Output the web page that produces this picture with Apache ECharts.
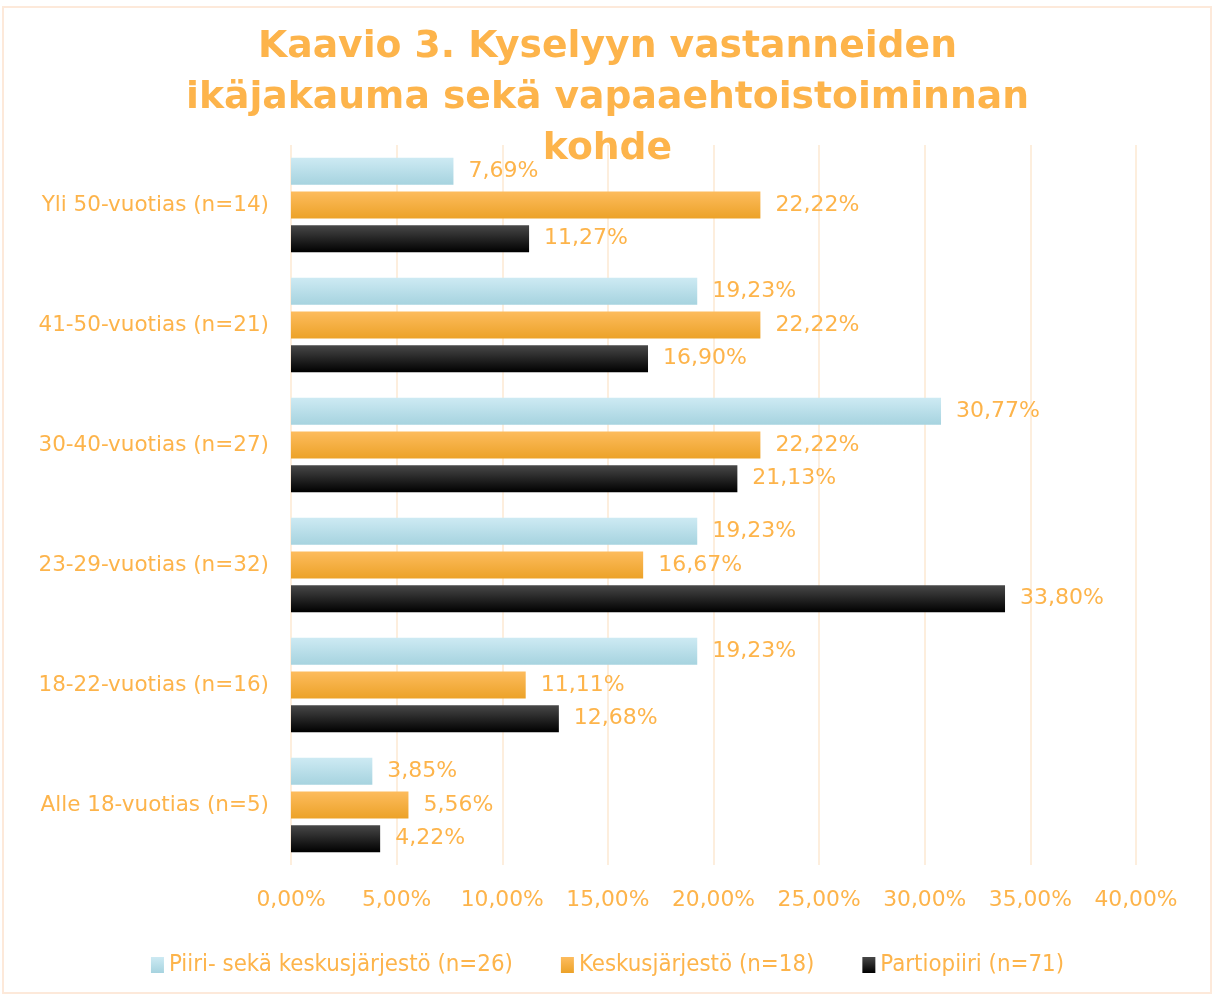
<!DOCTYPE html>
<html>
<head>
<meta charset="utf-8">
<script src="https://cdn.jsdelivr.net/npm/echarts@6/dist/echarts.min.js"></script>
<style>
  html, body { margin: 0; padding: 0; background: #fff; }
  #chart { width: 1215px; height: 997px; }
</style>
</head>
<body>
<div id="chart"></div>
<script>
// ikäryhmät, alhaalta ylös
const categories = [
  'Alle 18-vuotias (n=5)',
  '18-22-vuotias (n=16)',
  '23-29-vuotias (n=32)',
  '30-40-vuotias (n=27)',
  '41-50-vuotias (n=21)',
  'Yli 50-vuotias (n=14)'
];
const seriesNames = ['Piiri- sekä keskusjärjestö (n=26)', 'Keskusjärjestö (n=18)', 'Partiopiiri (n=71)'];
const piiriKeskus = [3.85, 19.23, 19.23, 30.77, 19.23, 7.69];
const keskus = [5.56, 11.11, 16.67, 22.22, 22.22, 22.22];
const partiopiiri = [4.22, 12.68, 33.80, 21.13, 16.90, 11.27];

const textColor = '#fdb44b';
const fmt = v => v.toFixed(2).replace('.', ',') + '%';

const grad = (top, bottom) => new echarts.graphic.LinearGradient(0, 0, 0, 1, [
  { offset: 0, color: top }, { offset: 1, color: bottom }
]);

const chart = echarts.init(document.getElementById('chart'));

const barCommon = {
  type: 'bar',
  barWidth: 27,
  barGap: '25%',
  label: {
    show: true,
    position: 'right',
    distance: 15,
    color: textColor,
    fontFamily: 'DejaVu Sans',
    fontSize: 22,
    formatter: p => fmt(p.value)
  }
};

chart.setOption({
  animation: false,
  title: {
    text: 'Kaavio 3. Kyselyyn vastanneiden\nikäjakauma sekä vapaaehtoistoiminnan\nkohde',
    left: 'center',
    top: 17,
    textStyle: {
      color: textColor,
      fontFamily: 'DejaVu Sans',
      fontWeight: 'bold',
      fontSize: 37.7,
      lineHeight: 51
    }
  },
  legend: {
    data: seriesNames,
    bottom: 15,
    left: 'center',
    itemWidth: 13,
    itemHeight: 16,
    itemGap: 48,
    icon: 'rect',
    textStyle: { color: textColor, fontFamily: 'DejaVu Sans Condensed', fontSize: 23.8 }
  },
  grid: { left: 291, right: 79, top: 145, bottom: 132 },
  xAxis: {
    type: 'value',
    min: 0,
    max: 40,
    interval: 5,
    axisLine: { show: false },
    axisTick: { show: false },
    splitLine: { lineStyle: { color: '#fdeedd', width: 2 } },
    axisLabel: {
      color: textColor,
      fontFamily: 'DejaVu Sans',
      fontSize: 21.8,
      margin: 24,
      formatter: v => fmt(v)
    }
  },
  yAxis: {
    type: 'category',
    data: categories,
    axisLine: { show: false },
    axisTick: { show: false },
    axisLabel: {
      color: textColor,
      fontFamily: 'DejaVu Sans',
      fontSize: 21.5,
      margin: 22
    }
  },
  graphic: [{
    type: 'rect',
    shape: { x: 3, y: 7, width: 1208, height: 986 },
    style: { fill: 'none', stroke: '#fde9da', lineWidth: 2 },
    silent: true
  }],
  series: [
    Object.assign({}, barCommon, {
      name: seriesNames[0],
      data: piiriKeskus,
      itemStyle: { color: grad('#cdeaf3', '#a6d3df') }
    }),
    Object.assign({}, barCommon, {
      name: seriesNames[1],
      data: keskus,
      itemStyle: { color: grad('#fdbc5e', '#eca228') }
    }),
    Object.assign({}, barCommon, {
      name: seriesNames[2],
      data: partiopiiri,
      itemStyle: { color: grad('#484848', '#000000') }
    })
  ]
});
</script>
</body>
</html>
